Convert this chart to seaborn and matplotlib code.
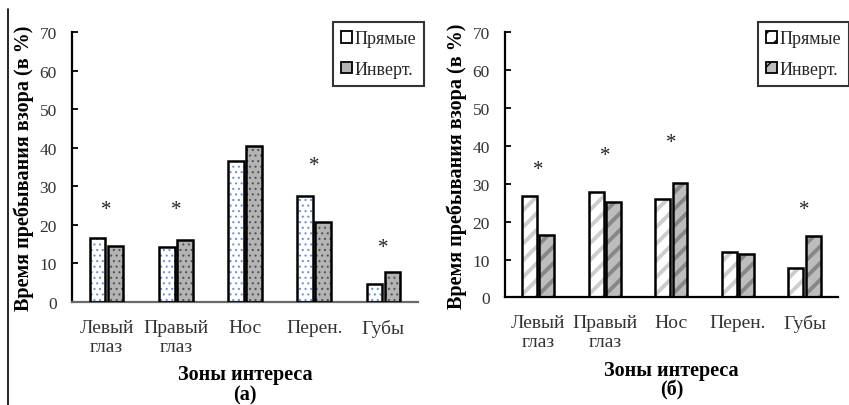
import matplotlib
matplotlib.use("Agg")
import matplotlib.pyplot as plt
import matplotlib.transforms as mtransforms
from matplotlib.patches import Rectangle, Patch
from matplotlib.lines import Line2D
import seaborn as sns
import pandas as pd

# Zones of interest and gaze dwell time (%) for upright / inverted faces
zones = ["Левый\nглаз", "Правый\nглаз", "Нос", "Перен.", "Губы"]
conditions = ["Прямые", "Инверт."]

upright_a = [16.6, 14.2, 36.5, 27.6, 4.7]
inverted_a = [14.6, 16.2, 40.5, 20.7, 7.7]
stars_a = [25.0, 25.0, None, 36.5, 15.2]

upright_b = [26.7, 27.7, 26.0, 11.9, 7.7]
inverted_b = [16.5, 25.2, 30.3, 11.5, 16.3]
stars_b = [34.8, 38.5, 42.0, None, 24.2]

yticks = [0, 10, 20, 30, 40, 50, 60, 70]

sns.set_theme(style="white")
plt.rcParams["font.serif"] = ["Liberation Serif", "DejaVu Serif"]
plt.rcParams["font.family"] = ["serif"]

fig = plt.figure(figsize=(8.49, 4.06), dpi=100)

panels = [
    dict(rect=[0.0848, 0.2537, 0.4075, 0.665], up=upright_a, inv=inverted_a,
         stars=stars_a, tag="(а)", hatch="...", up_fill="white", up_hatch="#6a95dc",
         inv_fill="#b4b4b4", inv_hatch="#555555", hlw=0.8,
         leg=(0.392, 0.943), bottom_color="#6a6a6a", leg_hatch=None),
    dict(rect=[0.5948, 0.265, 0.392, 0.653], up=upright_b, inv=inverted_b,
         stars=stars_b, tag="(б)", hatch="//", up_fill="white", up_hatch="#cdcdcd",
         inv_fill="#bdbdbd", inv_hatch="#878787", hlw=2.8,
         leg=(0.8925, 0.943), bottom_color="black", leg_hatch="//"),
]


def style_hatch(patch, color, lw):
    patch.set_edgecolor(color)
    if hasattr(patch, "set_hatch_linewidth"):
        patch.set_hatch_linewidth(lw)


for p in panels:
    ax = fig.add_axes(p["rect"])
    df = pd.DataFrame({
        "zone": zones * 2,
        "cond": [conditions[0]] * len(zones) + [conditions[1]] * len(zones),
        "value": p["up"] + p["inv"],
    })
    with plt.rc_context({"hatch.linewidth": p["hlw"]}):
        sns.barplot(data=df, x="zone", y="value", hue="cond", order=zones,
                    hue_order=conditions, palette=[p["up_fill"], p["inv_fill"]],
                    width=0.52, gap=0.14, saturation=1, legend=False, ax=ax,
                    linewidth=0)
        bars = list(ax.patches)
        for i, b in enumerate(bars):
            is_up = i < len(zones)
            b.set_hatch(p["hatch"])
            b.set_linewidth(0)
            style_hatch(b, p["up_hatch"] if is_up else p["inv_hatch"], p["hlw"])
    # black outlines on top of the hatched bars
    for b in bars:
        ax.add_patch(Rectangle(b.get_xy(), b.get_width(), b.get_height(),
                               fill=False, edgecolor="black", linewidth=1.8,
                               zorder=3))

    # significance asterisks; the glyph sits high in its box, so nudge it down
    star_tr = mtransforms.offset_copy(ax.transData, fig=fig, x=0, y=-3,
                                      units="points")
    for i, s in enumerate(p["stars"]):
        if s is not None:
            ax.text(i, s, "*", ha="center", va="center", fontsize=15,
                    color="#222222", transform=star_tr)

    ax.set_xlim(-0.5, len(zones) - 0.5)
    ax.set_ylim(0, 70)
    ax.set_yticks(yticks)
    ax.tick_params(axis="y", direction="in", length=4, width=1.3,
                   color="black", labelsize=12.5, labelcolor="#333333", pad=11,
                   left=True)
    ax.tick_params(axis="x", length=0, labelsize=14, labelcolor="#333333", pad=12)
    for lab in ax.get_xticklabels():
        lab.set_linespacing(1.15)
    sns.despine(ax=ax)
    ax.spines["left"].set_linewidth(1.6)
    ax.spines["left"].set_color("black")
    ax.spines["bottom"].set_linewidth(1.6)
    ax.spines["bottom"].set_color(p["bottom_color"])

    ax.set_ylabel("Время пребывания взора (в %)", fontsize=14.5,
                  fontweight="bold", labelpad=4, color="black")
    ax.set_xlabel("Зоны интереса\n" + p["tag"], fontsize=14.5,
                  fontweight="bold", labelpad=7, color="black",
                  linespacing=1.0)

    with plt.rc_context({"hatch.linewidth": 1.2}):
        handles = [
            Patch(facecolor=p["up_fill"], edgecolor="black", linewidth=1.3,
                  hatch=p["leg_hatch"]),
            Patch(facecolor=p["inv_fill"], edgecolor="black", linewidth=1.3,
                  hatch=p["leg_hatch"]),
        ]
    leg = fig.legend(handles, conditions, loc="upper left",
                     bbox_to_anchor=p["leg"], bbox_transform=fig.transFigure,
                     fontsize=13, frameon=True, fancybox=False,
                     handlelength=0.6, handleheight=0.6, handletextpad=0.15,
                     labelspacing=0.75, borderpad=0.45, borderaxespad=0)
    leg.get_frame().set_edgecolor("black")
    leg.get_frame().set_linewidth(1.5)

# vertical rule at the left edge
fig.add_artist(Line2D([8 / 849, 8 / 849], [0, 1 - 10 / 406],
                      transform=fig.transFigure, color="black", linewidth=1.2))

fig.savefig("out.png", dpi=100, facecolor="white")
